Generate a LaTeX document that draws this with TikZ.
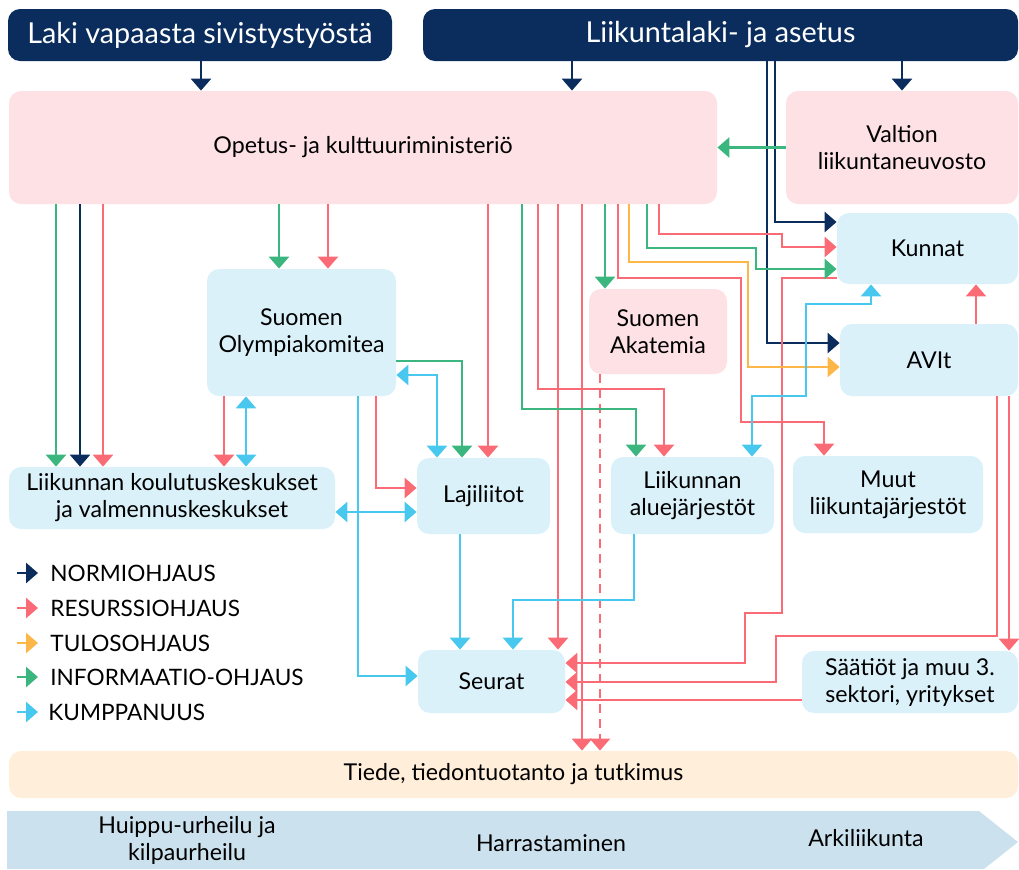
\documentclass[tikz,border=0pt]{standalone}
\usepackage{fontspec}
\setmainfont{Lato}
\usetikzlibrary{arrows.meta, positioning, calc}

\definecolor{navy}{HTML}{0A2D5E}
\definecolor{resred}{HTML}{FB6B75}
\definecolor{tulosor}{HTML}{FDB748}
\definecolor{infogr}{HTML}{3CB67F}
\definecolor{kumpcy}{HTML}{48C8EE}
\definecolor{pinkbox}{HTML}{FDE1E5}
\definecolor{bluebox}{HTML}{DAF1FA}
\definecolor{creambox}{HTML}{FFEFDA}
\definecolor{bandblue}{HTML}{CCE1EE}

\begin{document}
\begin{tikzpicture}[x=0.5pt, y=-0.5pt,
    box/.style={rounded corners=6pt, inner sep=0pt, align=center,
        font=\fontsize{11.6}{13.5}\selectfont},
    lawbox/.style={box, fill=navy, text=white, font=\fontsize{14.4}{16}\selectfont},
    tip/.style={-{Triangle[width=10pt, length=6pt]}},
    tips/.style={{Triangle[width=10pt, length=6pt]}-{Triangle[width=10pt, length=6pt]}},
    norm/.style={tip, navy, line width=1.4pt},
    res/.style={tip, resred, line width=1.4pt},
    tulos/.style={tip, tulosor, line width=1.4pt},
    info/.style={tip, infogr, line width=1.4pt},
    kump/.style={tip, kumpcy, line width=1.4pt},
    kumpb/.style={tips, kumpcy, line width=1.4pt},
    legend/.style={anchor=west, inner sep=0pt, font=\fontsize{11.3}{13}\selectfont}]
    \useasboundingbox (0,0) rectangle (1019,869);

    % Laws
    \node[lawbox, minimum width=192pt, minimum height=26pt] (laki) at (200,35) {Laki vapaasta sivistystyöstä};
    \node[lawbox, minimum width=297.5pt, minimum height=26pt] (liik) at (720.5,35) {Liikuntalaki- ja asetus};

    % Actors
    \node[box, fill=pinkbox, minimum width=354pt, minimum height=56.5pt] (okm) at (363,147.5) {Opetus- ja kulttuuriministeriö};
    \node[box, fill=pinkbox, minimum width=116pt, minimum height=56.5pt] (valtion) at (902,147.5) {Valtion\\liikuntaneuvosto};
    \node[box, fill=bluebox, minimum width=90.5pt, minimum height=35.5pt] (kunnat) at (927.5,248.5) {Kunnat};
    \node[box, fill=bluebox, minimum width=94.5pt, minimum height=63.5pt] (olymp) at (301.5,332.5) {Suomen\\Olympiakomitea};
    \node[box, fill=pinkbox, minimum width=69pt, minimum height=42.5pt] (akat) at (658,331.5) {Suomen\\Akatemia};
    \node[box, fill=bluebox, minimum width=89pt, minimum height=36pt] (avit) at (929,360) {AVIt};
    \node[box, fill=bluebox, minimum width=163pt, minimum height=31pt] (koul) at (172,498) {Liikunnan koulutuskeskukset\\ja valmennuskeskukset};
    \node[box, fill=bluebox, minimum width=66.5pt, minimum height=38pt] (laji) at (483.5,496) {Lajiliitot};
    \node[box, fill=bluebox, minimum width=81.5pt, minimum height=38.5pt] (alue) at (692.5,495.5) {Liikunnan\\aluejärjestöt};
    \node[box, fill=bluebox, minimum width=95pt, minimum height=38.5pt] (muut) at (888,494.5) {Muut\\liikuntajärjestöt};
    \node[box, fill=bluebox, minimum width=73.5pt, minimum height=31.5pt] (seurat) at (491.5,681.5) {Seurat};
    \node[box, fill=bluebox, minimum width=108pt, minimum height=31pt] (saatiot) at (910,682) {Säätiöt ja muu 3.\\sektori, yritykset};
    \node[box, fill=creambox, minimum width=504.5pt, minimum height=23.5pt] (tiede) at (513.5,774.5) {Tiede, tiedontuotanto ja tutkimus};

    % Band at the bottom
    \fill[bandblue] (7,811) -- (979,811) -- (1018,842) -- (984,869) -- (7,869) -- cycle;
    \node[box] (huippu) at (187,840) {Huippu-urheilu ja\\kilpaurheilu};
    \node[box] (harr) at (551,843) {Harrastaminen};
    \node[box] (arki) at (866,838) {Arkiliikunta};

    % Normiohjaus
    \draw[norm] (laki.south -| 201,0) -- (okm.north -| 201,0);
    \draw[norm] (liik.south -| 572,0) -- (okm.north -| 572,0);
    \draw[norm] (liik.south -| 902,0) -- (valtion.north -| 902,0);
    \draw[norm] (liik.south -| 775,0) |- (kunnat.west |- 0,222);
    \draw[norm] (liik.south -| 767,0) |- (avit.west |- 0,343);
    \draw[norm] (okm.south -| 80,0) -- (koul.north -| 80,0);

    % Resurssiohjaus
    \draw[res] (okm.south -| 103,0) -- (koul.north -| 103,0);
    \draw[res] (okm.south -| 328,0) -- (olymp.north -| 328,0);
    \draw[res] (okm.south -| 488,0) -- (laji.north -| 488,0);
    \draw[res] (okm.south -| 538,0) |- (664,389) -- (alue.north -| 664,0);
    \draw[res] (okm.south -| 558,0) -- (seurat.north -| 558,0);
    \draw[res] (okm.south -| 582,0) -- (tiede.north -| 582,0);
    \draw[res] (okm.south -| 659,0) |- (782,234) |- (kunnat.west |- 0,247);
    \draw[res] (okm.south -| 618,0) |- (741,278) |- (824,422) -- (muut.north -| 824,0);
    \draw[res] (kunnat.west |- 0,278) -| (782,613) -| (745,663) -- (seurat.east |- 0,663);
    \draw[res] (avit.north -| 976,0) -- (kunnat.south -| 976,0);
    \draw[res] (avit.south -| 997,0) |- (776,636) |- (seurat.east |- 0,682);
    \draw[res] (avit.south -| 1009,0) -- (saatiot.north -| 1009,0);
    \draw[res] (saatiot.west |- 0,700) -- (seurat.east |- 0,700);
    \draw[res] (olymp.south -| 224,0) -- (koul.north -| 224,0);
    \draw[res] (olymp.south -| 376,0) |- (laji.west |- 0,488);
    \draw[res, dash pattern=on 4.5pt off 3pt] (akat.south -| 600,0) -- (tiede.north -| 600,0);

    % Tulosohjaus
    \draw[tulos] (okm.south -| 629,0) |- (748,262) |- (avit.west |- 0,367);

    % Informaatio-ohjaus
    \draw[info] (valtion.west) -- (okm.east |- valtion.west);
    \draw[info] (okm.south -| 56,0) -- (koul.north -| 56,0);
    \draw[info] (okm.south -| 279,0) -- (olymp.north -| 279,0);
    \draw[info] (okm.south -| 605,0) -- (akat.north -| 605,0);
    \draw[info] (okm.south -| 647,0) |- (756,248) |- (kunnat.west |- 0,269);
    \draw[info] (okm.south -| 522,0) |- (636,409) -- (alue.north -| 636,0);
    \draw[info] (olymp.east |- 0,361) -| (laji.north -| 462,0);

    % Kumppanuus
    \draw[kumpb] (olymp.south -| 246,0) -- (koul.north -| 246,0);
    \draw[kumpb] (olymp.east |- 0,375) -| (laji.north -| 437,0);
    \draw[kumpb] (koul.east |- 0,512) -- (laji.west |- 0,512);
    \draw[kump] (olymp.south -| 358,0) |- (seurat.west |- 0,676);
    \draw[kump] (laji.south -| 460,0) -- (seurat.north -| 460,0);
    \draw[kump] (alue.south -| 634,0) |- (513,600) -- (seurat.north -| 513,0);
    \draw[kumpb] (kunnat.south -| 871,0) |- (806,304) |- (752,396) -- (alue.north -| 752,0);

    % Legend
    \node[legend] (lnorm) at (50,573) {NORMIOHJAUS};
    \node[legend] (lres) at (50,608) {RESURSSIOHJAUS};
    \node[legend] (ltulos) at (50,643) {TULOSOHJAUS};
    \node[legend] (linfo) at (50,677) {INFORMAATIO-OHJAUS};
    \node[legend] (lkump) at (48,712) {KUMPPANUUS};
    \draw[norm] ([xshift=-16.5pt]lnorm.west) -- ([xshift=-6pt]lnorm.west);
    \draw[res] ([xshift=-16.5pt]lres.west) -- ([xshift=-6pt]lres.west);
    \draw[tulos] ([xshift=-16.5pt]ltulos.west) -- ([xshift=-6pt]ltulos.west);
    \draw[info] ([xshift=-16.5pt]linfo.west) -- ([xshift=-6pt]linfo.west);
    \draw[kump] ([xshift=-15.5pt]lkump.west) -- ([xshift=-5pt]lkump.west);
\end{tikzpicture}
\end{document}
